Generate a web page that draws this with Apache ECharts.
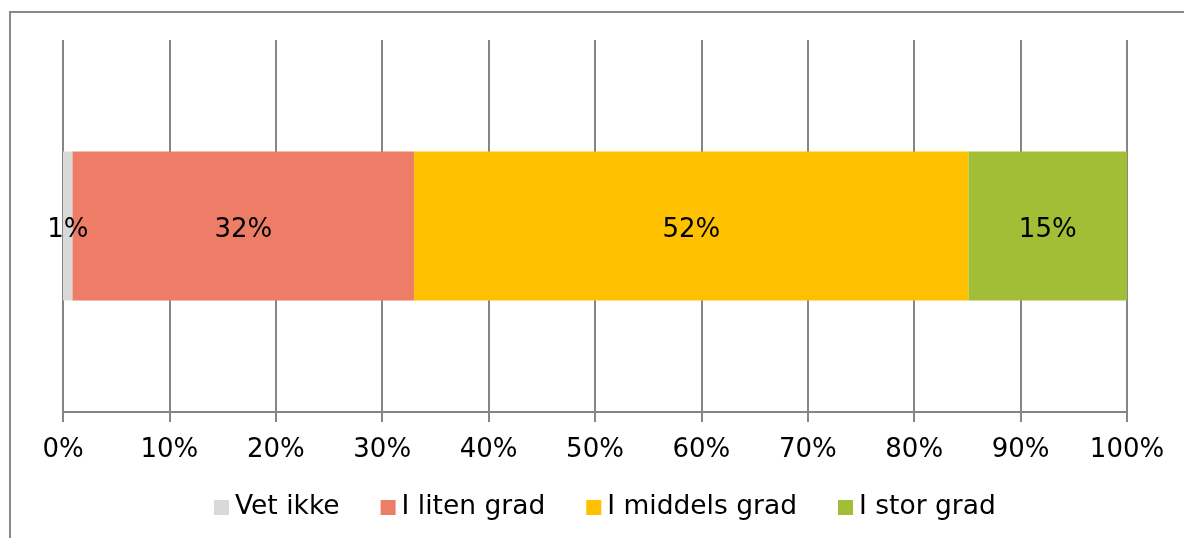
<!DOCTYPE html>
<html>
<head>
<meta charset="utf-8">
<script src="https://cdn.jsdelivr.net/npm/echarts@6/dist/echarts.min.js"></script>
<style>
html,body{margin:0;padding:0;background:#fff;}
#c{width:1184px;height:538px;}
</style>
</head>
<body>
<div id="c"></div>
<script>
const categories = [''];
const seriesNames = ['Vet ikke', 'I liten grad', 'I middels grad', 'I stor grad'];
const vetIkke = [0.9];
const litenGrad = [32.1];
const middelsGrad = [52.1];
const storGrad = [14.9];
const colors = ['#D9D9D9', '#ED7D67', '#FFC000', '#A2BE37'];
const tickLabels = ['0%','10%','20%','30%','40%','50%','60%','70%','80%','90%','100%'];

const values = [vetIkke, litenGrad, middelsGrad, storGrad];
const FONT = 'DejaVu Sans';
const chart = echarts.init(document.getElementById('c'), null, {renderer: 'canvas'});
chart.setOption({
  animation: false,
  backgroundColor: '#fff',
  textStyle: {fontFamily: FONT},
  graphic: [{
    type: 'rect',
    shape: {x: 10, y: 12, width: 1300, height: 700},
    style: {fill: 'none', stroke: '#888888', lineWidth: 2},
    silent: true, z: 0
  }],
  grid: {left: 63, right: 57, top: 40, bottom: 126, containLabel: false},
  legend: {
    data: seriesNames,
    left: 209, top: 489,
    itemWidth: 15, itemHeight: 15, itemGap: 41,
    icon: 'rect',
    textStyle: {fontFamily: FONT, fontSize: 26.5, color: '#000', padding: [0,0,0,1]}
  },
  xAxis: {
    type: 'value', min: 0, max: 100, interval: 10,
    axisLine: {show: true, lineStyle: {color: '#868686', width: 2}},
    axisTick: {show: true, length: 10, lineStyle: {color: '#868686', width: 2}},
    splitLine: {show: true, lineStyle: {color: '#868686', width: 2}},
    axisLabel: {
      fontFamily: FONT, fontSize: 26, color: '#000', margin: 25,
      formatter: function (v) { return tickLabels[Math.round(v / 10)]; }
    }
  },
  yAxis: {
    type: 'category', data: categories,
    axisLine: {show: false}, axisTick: {show: false}, axisLabel: {show: false}
  },
  series: seriesNames.map(function (n, i) {
    return {
      name: n, type: 'bar', stack: 'all', barWidth: 149,
      data: values[i],
      itemStyle: {color: colors[i]},
      label: {
        show: true, position: 'inside', color: '#000',
        fontFamily: FONT, fontSize: 26, offset: [0, 4],
        formatter: function (p) { return Math.round(p.value) + '%'; }
      }
    };
  })
});
</script>
</body>
</html>
